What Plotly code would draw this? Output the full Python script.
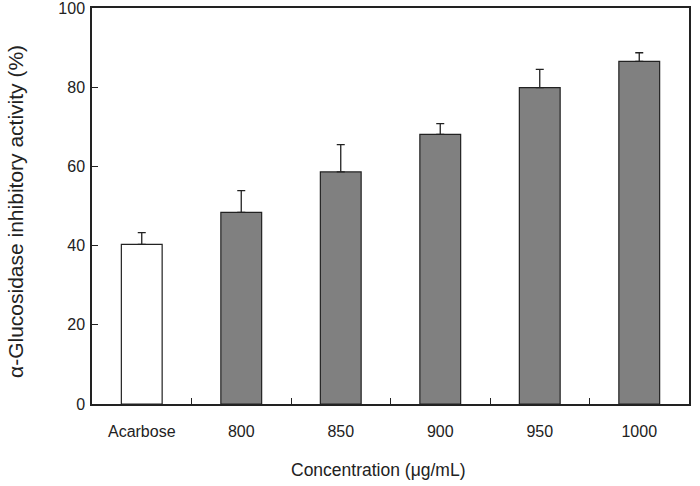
import plotly.graph_objects as go

categories = ["Acarbose", "800", "850", "900", "950", "1000"]
values = [40.3, 48.4, 58.6, 68.1, 79.9, 86.5]
errors = [3.0, 5.5, 6.9, 2.7, 4.6, 2.2]
bar_colors = ["#ffffff", "#808080", "#808080", "#808080", "#808080", "#808080"]
y_ticks = [0, 20, 40, 60, 80, 100]

L, R, T, B = 92, 11, 8, 82
W, H = 700, 486
pw, ph = W - L - R, H - T - B

fig = go.Figure()
fig.add_trace(go.Bar(
    x=categories, y=values,
    marker=dict(color=bar_colors, line=dict(color="#222222", width=1.2)),
    width=0.41,
    error_y=dict(type="data", array=errors, arrayminus=[0]*len(errors),
                 symmetric=False, color="#222222", thickness=1.3, width=4),
))

font = dict(family="Liberation Sans, Arial, sans-serif", size=16, color="#222222")
fig.update_layout(
    width=W, height=H,
    margin=dict(l=L, r=R, t=T, b=B),
    paper_bgcolor="white", plot_bgcolor="white",
    font=font, showlegend=False,
    xaxis=dict(
        type="category", tickson="boundaries", ticks="inside", ticklen=6,
        tickcolor="#222222", showline=True, linecolor="#222222", linewidth=1.5,
        mirror=True, showgrid=False, automargin=False, ticklabelstandoff=12,
    ),
    yaxis=dict(
        range=[0, 100], tickvals=y_ticks, ticks="inside", ticklen=6,
        tickcolor="#222222", showline=True, linecolor="#222222", linewidth=1.5,
        mirror=True, showgrid=False, zeroline=False, automargin=False,
        ticklabelstandoff=2, ticklabeloverflow="allow",
    ),
    annotations=[
        dict(text="Concentration (μg/mL)", xref="paper", yref="paper",
             x=(378 - L) / pw, y=-(470 - (T + ph)) / ph, xanchor="center", yanchor="middle",
             showarrow=False, font=dict(size=17.5)),
        dict(text="α-Glucosidase inhibitory activity (%)", xref="paper", yref="paper",
             x=(15 - L) / pw, y=(T + ph - 212) / ph, xanchor="center", yanchor="middle",
             textangle=-90, showarrow=False, font=dict(size=21)),
    ],
)
fig.write_html("out.html")
